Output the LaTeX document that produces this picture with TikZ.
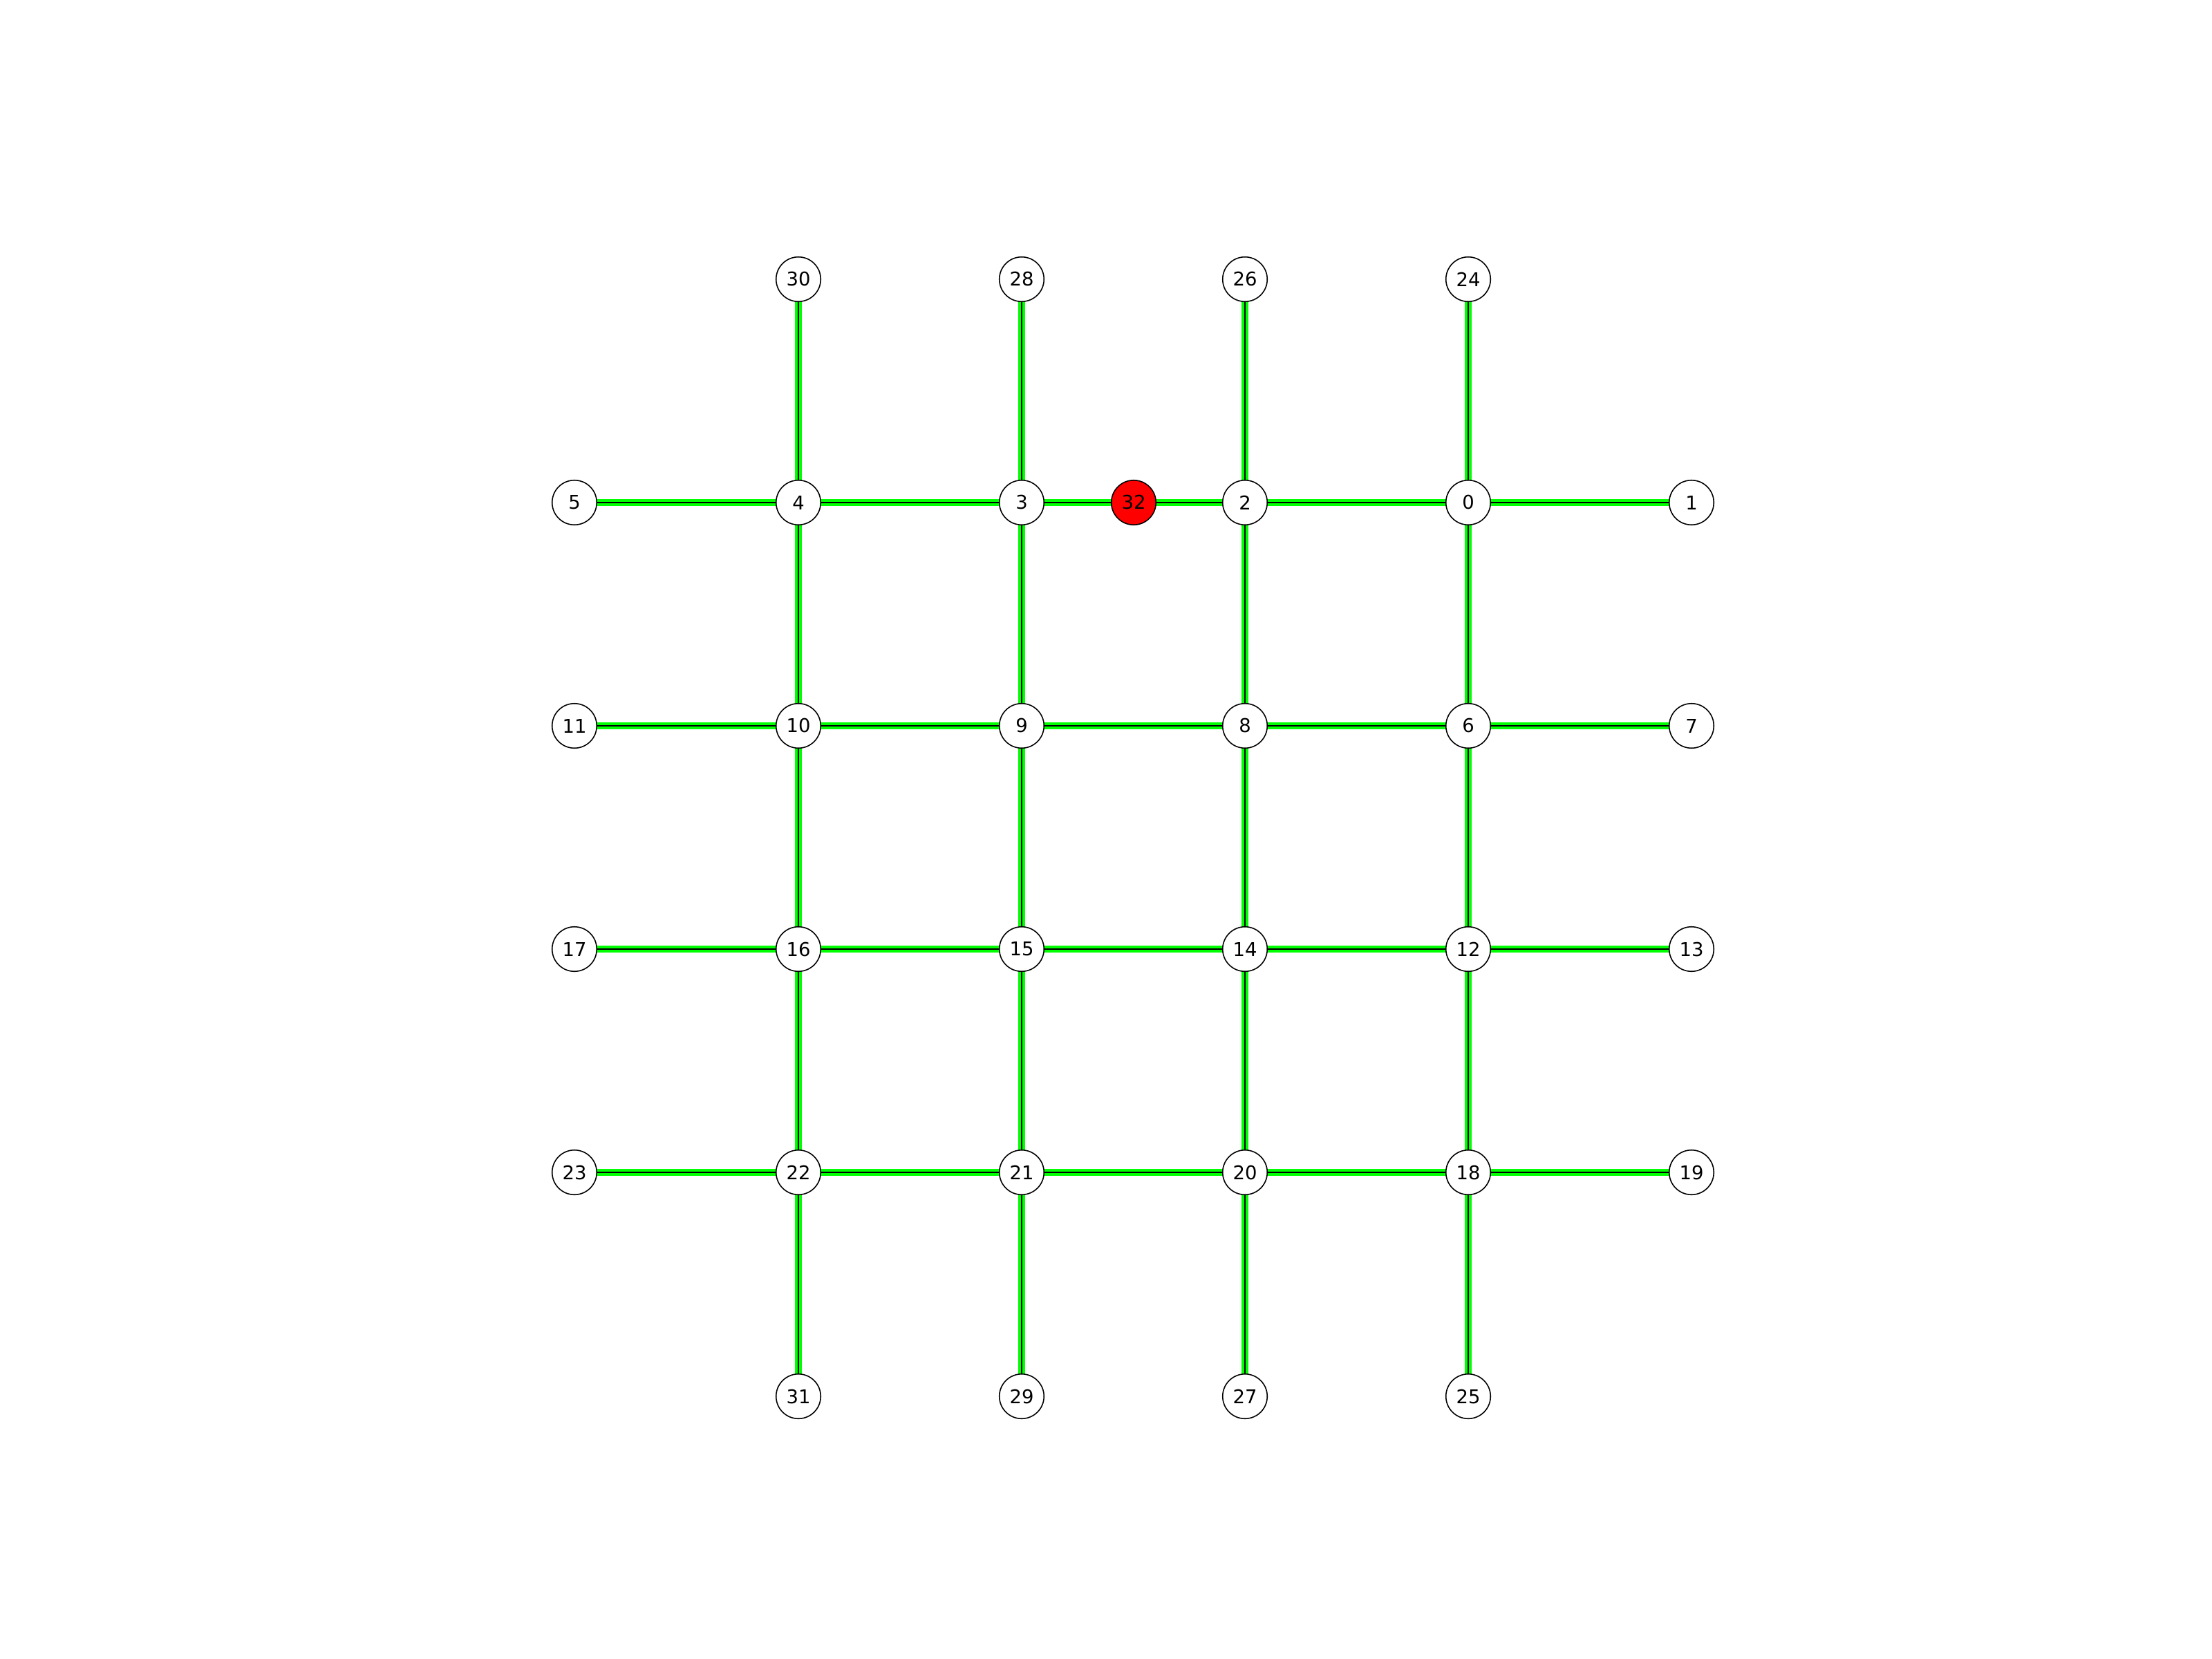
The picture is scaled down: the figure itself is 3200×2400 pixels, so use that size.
\documentclass[tikz,border=0pt]{standalone}
\usepackage{fontspec}
\setmainfont{DejaVu Sans}
\pgfdeclarelayer{background}
\pgfsetlayers{background,main}
\tikzset{
  vtx/.style={circle, draw=black, line width=0.45pt, fill=white, minimum size=0.645cm, inner sep=0pt, font=\fontsize{7.8}{9}\selectfont},
  hot/.style={vtx, fill=red},
  glow/.style={draw={rgb,255:red,0;green,255;blue,0}, line width=3.1pt},
  core/.style={draw=black, line width=0.8pt}
}
\begin{document}
\begin{tikzpicture}[x=0.01cm, y=-0.01cm]
\useasboundingbox (0,0) rectangle (3200,2400);
% columns: 831 1155 1478 1801 2124 2447 ; rows: 404 727 1050 1373 1696 2020
\node[vtx] (n30) at (1155,404) {30};
\node[vtx] (n28) at (1478,404) {28};
\node[vtx] (n26) at (1801,404) {26};
\node[vtx] (n24) at (2124,404) {24};
\node[vtx] (n5) at (831,727) {5};
\node[vtx] (n4) at (1155,727) {4};
\node[vtx] (n3) at (1478,727) {3};
\node[hot] (n32) at (1640,727) {32};
\node[vtx] (n2) at (1801,727) {2};
\node[vtx] (n0) at (2124,727) {0};
\node[vtx] (n1) at (2447,727) {1};
\node[vtx] (n11) at (831,1050) {11};
\node[vtx] (n10) at (1155,1050) {10};
\node[vtx] (n9) at (1478,1050) {9};
\node[vtx] (n8) at (1801,1050) {8};
\node[vtx] (n6) at (2124,1050) {6};
\node[vtx] (n7) at (2447,1050) {7};
\node[vtx] (n17) at (831,1373) {17};
\node[vtx] (n16) at (1155,1373) {16};
\node[vtx] (n15) at (1478,1373) {15};
\node[vtx] (n14) at (1801,1373) {14};
\node[vtx] (n12) at (2124,1373) {12};
\node[vtx] (n13) at (2447,1373) {13};
\node[vtx] (n23) at (831,1696) {23};
\node[vtx] (n22) at (1155,1696) {22};
\node[vtx] (n21) at (1478,1696) {21};
\node[vtx] (n20) at (1801,1696) {20};
\node[vtx] (n18) at (2124,1696) {18};
\node[vtx] (n19) at (2447,1696) {19};
\node[vtx] (n31) at (1155,2020) {31};
\node[vtx] (n29) at (1478,2020) {29};
\node[vtx] (n27) at (1801,2020) {27};
\node[vtx] (n25) at (2124,2020) {25};
\begin{pgfonlayer}{background}
\foreach \st in {glow,core}{
  \foreach \a/\b in {5/4,4/3,3/32,32/2,2/0,0/1,
                     11/10,10/9,9/8,8/6,6/7,
                     17/16,16/15,15/14,14/12,12/13,
                     23/22,22/21,21/20,20/18,18/19,
                     30/4,4/10,10/16,16/22,22/31,
                     28/3,3/9,9/15,15/21,21/29,
                     26/2,2/8,8/14,14/20,20/27,
                     24/0,0/6,6/12,12/18,18/25}{
    \path[\st] (n\a.center) -- (n\b.center);
  }
}
\end{pgfonlayer}
\end{tikzpicture}
\end{document}
